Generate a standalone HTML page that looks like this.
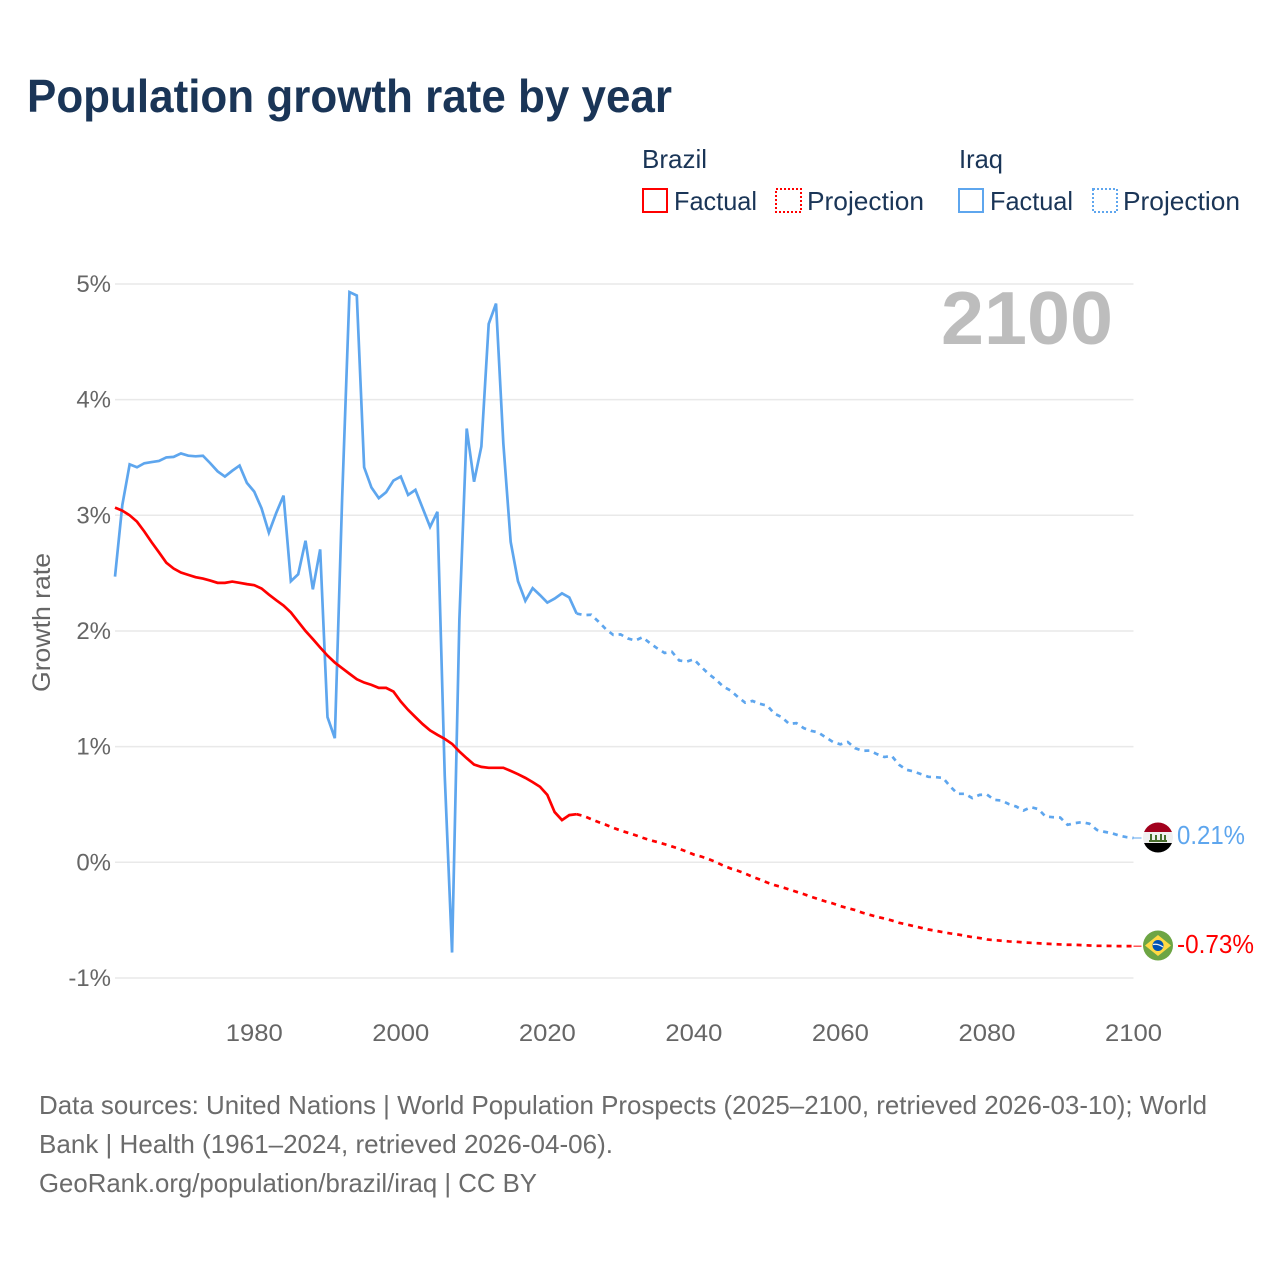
<!DOCTYPE html>
<html lang="en">
<head>
<meta charset="utf-8">
<title>Population growth rate by year</title>
<style>
html,body{margin:0;padding:0;background:#fff;width:1280px;height:1280px;overflow:hidden}
svg{display:block;font-family:"Liberation Sans",sans-serif}
</style>
</head>
<body>
<svg id="chart" width="1280" height="1280" viewBox="0 0 1280 1280" xmlns="http://www.w3.org/2000/svg">
  <rect x="0" y="0" width="1280" height="1280" fill="#fff"/>
  <text x="27" y="112" font-size="46" font-weight="700" fill="#1a3557" textLength="645" lengthAdjust="spacingAndGlyphs">Population growth rate by year</text>

  <g font-size="26" fill="#1a3557">
    <text x="642" y="168" textLength="65" lengthAdjust="spacingAndGlyphs">Brazil</text>
    <text x="959" y="168" textLength="44" lengthAdjust="spacingAndGlyphs">Iraq</text>
    <g>
      <rect x="643" y="189" width="24" height="23" fill="none" stroke="#ff0000" stroke-width="2"/>
      <text x="674" y="210" textLength="83" lengthAdjust="spacingAndGlyphs">Factual</text>
    </g>
    <g>
      <rect x="776" y="189" width="25" height="23" fill="none" stroke="#ff0000" stroke-width="2" stroke-dasharray="2 2"/>
      <text x="807" y="210" textLength="117" lengthAdjust="spacingAndGlyphs">Projection</text>
    </g>
    <g>
      <rect x="959" y="189" width="24" height="23" fill="none" stroke="#5ea6ee" stroke-width="2"/>
      <text x="990" y="210" textLength="83" lengthAdjust="spacingAndGlyphs">Factual</text>
    </g>
    <g>
      <rect x="1093" y="189" width="24" height="23" fill="none" stroke="#5ea6ee" stroke-width="2" stroke-dasharray="2 2"/>
      <text x="1123" y="210" textLength="117" lengthAdjust="spacingAndGlyphs">Projection</text>
    </g>
  </g>

  <g id="grid"></g>
  <g id="yticks" font-size="24" fill="#666" text-anchor="end"></g>
  <g id="xticks" font-size="24" fill="#666" text-anchor="middle"></g>
  <text transform="translate(50,692) rotate(-90)" font-size="25" fill="#666" textLength="139" lengthAdjust="spacingAndGlyphs">Growth rate</text>
  <text x="941" y="344" font-size="75" font-weight="700" fill="#bdbdbd" textLength="172" lengthAdjust="spacingAndGlyphs">2100</text>

  <g id="series"></g>

  <g id="flag-iraq">
    <clipPath id="clip-iraq"><circle cx="1158" cy="837.500" r="15"/></clipPath>
    <g clip-path="url(#clip-iraq)">
      <rect x="1143" y="822" width="30" height="10" fill="#a2001d"/>
      <rect x="1143" y="832" width="30" height="11" fill="#f0f0f0"/>
      <rect x="1143" y="843" width="30" height="10" fill="#000"/>
      <g fill="#496e2d">
        <rect x="1149" y="840" width="18" height="2"/>
        <rect x="1150" y="834" width="2" height="6"/>
        <rect x="1155" y="835" width="2" height="5"/>
        <rect x="1160" y="834" width="2" height="6"/>
        <rect x="1164" y="835" width="2" height="5"/>
      </g>
    </g>
  </g>
  <g id="flag-brazil">
    <circle cx="1158" cy="945.500" r="15" fill="#6da544"/>
    <polygon points="1158,935 1171,945.500 1158,956 1145,945.500" fill="#ffda44"/>
    <circle cx="1158" cy="945.500" r="5.500" fill="#0052b4"/>
    <path d="M1153 944.500 Q1158 943.500 1163 947" fill="none" stroke="#f0f0f0" stroke-width="1.300"/>
  </g>
  <text id="value-iraq" x="1177" y="844" font-size="26" fill="#5ea6ee" textLength="68" lengthAdjust="spacingAndGlyphs">0.21%</text>
  <text id="value-brazil" x="1177" y="953" font-size="26" fill="#ff0000" textLength="77" lengthAdjust="spacingAndGlyphs">-0.73%</text>

  <g font-size="26" fill="#6b6b6b">
    <text x="39" y="1114" textLength="1168" lengthAdjust="spacingAndGlyphs">Data sources: United Nations | World Population Prospects (2025–2100, retrieved 2026-03-10); World</text>
    <text x="39" y="1153" textLength="574" lengthAdjust="spacingAndGlyphs">Bank | Health (1961–2024, retrieved 2026-04-06).</text>
    <text x="39" y="1192" textLength="498" lengthAdjust="spacingAndGlyphs">GeoRank.org/population/brazil/iraq | CC BY</text>
  </g>
</svg>
<script>
const factualStartYear = 1961;
const projectionStartYear = 2025;
const yearMin = 1961;
const yearMax = 2100;
const xTickYears = [1980, 2000, 2020, 2040, 2060, 2080, 2100];
const yTickValues = [5, 4, 3, 2, 1, 0, -1];
const yTickLabels = ['5%', '4%', '3%', '2%', '1%', '0%', '-1%'];

const brazilFactual = [3.066,3.04,3.0,2.945,2.86,2.767,2.68,2.59,2.54,2.505,2.485,2.465,2.453,2.436,2.416,2.416,2.427,2.416,2.405,2.396,2.367,2.315,2.266,2.22,2.16,2.08,2.0,1.93,1.857,1.787,1.727,1.678,1.63,1.583,1.554,1.534,1.508,1.508,1.476,1.39,1.318,1.255,1.194,1.14,1.102,1.067,1.024,0.958,0.9,0.845,0.825,0.817,0.817,0.817,0.79,0.762,0.73,0.693,0.653,0.583,0.434,0.365,0.408,0.416];
const brazilProjection = [0.40,0.373,0.347,0.324,0.298,0.275,0.255,0.235,0.212,0.192,0.175,0.157,0.137,0.117,0.093,0.067,0.05,0.028,0.002,-0.028,-0.053,-0.073,-0.097,-0.125,-0.149,-0.175,-0.197,-0.214,-0.235,-0.255,-0.275,-0.298,-0.318,-0.339,-0.356,-0.379,-0.396,-0.413,-0.436,-0.454,-0.471,-0.486,-0.503,-0.523,-0.537,-0.552,-0.566,-0.581,-0.592,-0.604,-0.615,-0.624,-0.635,-0.647,-0.655,-0.667,-0.673,-0.678,-0.684,-0.687,-0.693,-0.696,-0.70,-0.704,-0.707,-0.71,-0.713,-0.713,-0.716,-0.719,-0.722,-0.722,-0.723,-0.725,-0.725,-0.725];
const iraqFactual = [2.47,3.09,3.44,3.415,3.45,3.46,3.47,3.50,3.505,3.535,3.515,3.51,3.515,3.45,3.38,3.335,3.385,3.43,3.28,3.205,3.06,2.85,3.02,3.17,2.43,2.49,2.78,2.36,2.705,1.255,1.073,3.15,4.93,4.90,3.415,3.24,3.148,3.2,3.3,3.335,3.176,3.22,3.06,2.90,3.03,0.75,-0.78,2.1,3.75,3.29,3.595,4.655,4.83,3.62,2.77,2.43,2.26,2.37,2.31,2.245,2.28,2.325,2.29,2.15];
const iraqProjection = [2.137,2.14,2.08,2.015,1.966,1.97,1.935,1.917,1.946,1.895,1.85,1.81,1.82,1.745,1.735,1.755,1.69,1.63,1.58,1.52,1.485,1.43,1.38,1.395,1.37,1.355,1.285,1.255,1.197,1.203,1.16,1.137,1.122,1.08,1.04,1.02,1.04,0.987,0.964,0.966,0.935,0.91,0.92,0.843,0.80,0.785,0.762,0.739,0.736,0.73,0.655,0.592,0.592,0.555,0.583,0.586,0.54,0.534,0.503,0.482,0.448,0.477,0.46,0.396,0.39,0.387,0.324,0.339,0.347,0.333,0.28,0.264,0.252,0.232,0.218,0.21];

const svgNS = 'http://www.w3.org/2000/svg';
function xScale(year) {
  return 115 + (year - yearMin) * (1133.5 - 115) / (yearMax - yearMin);
}
function yScale(value) {
  return 862.3 - value * 115.67;
}
function linePath(startYear, values) {
  return values.map(function (v, i) {
    return (i ? 'L' : 'M') + xScale(startYear + i).toFixed(2) + ' ' + yScale(v).toFixed(2);
  }).join(' ');
}

const gridLayer = document.getElementById('grid');
const yTickLayer = document.getElementById('yticks');
const xTickLayer = document.getElementById('xticks');
const seriesLayer = document.getElementById('series');

yTickValues.forEach(function (v, i) {
  const line = document.createElementNS(svgNS, 'line');
  
  
  line.setAttribute('x1', xScale(yearMin));
  line.setAttribute('x2', xScale(yearMax));
  line.setAttribute('y1', yScale(v));
  line.setAttribute('y2', yScale(v));
  line.setAttribute('stroke', '#e9e9e9');
  line.setAttribute('stroke-width', '1.500');
  gridLayer.appendChild(line);

  const label = document.createElementNS(svgNS, 'text');
  
  
  label.setAttribute('x', 111);
  label.setAttribute('y', yScale(v) + 8);
  label.textContent = yTickLabels[i];
  yTickLayer.appendChild(label);
});

xTickYears.forEach(function (year) {
  const label = document.createElementNS(svgNS, 'text');
  
  
  label.setAttribute('x', xScale(year));
  label.setAttribute('y', 1041);
  label.setAttribute('textLength', 57);
  label.setAttribute('lengthAdjust', 'spacingAndGlyphs');
  label.textContent = String(year);
  xTickLayer.appendChild(label);
});

function drawLine(name, startYear, values, color, dashed) {
  const path = document.createElementNS(svgNS, 'path');
  
  
  path.setAttribute('d', linePath(startYear, values));
  path.setAttribute('fill', 'none');
  path.setAttribute('stroke', color);
  path.setAttribute('stroke-width', '2.700');
  path.setAttribute('stroke-linejoin', 'miter');
  if (dashed) {
    path.setAttribute('stroke-dasharray', '5 5');
  }
  seriesLayer.appendChild(path);
}
function drawConnector(name, value, color) {
  const line = document.createElementNS(svgNS, 'line');
  
  
  line.setAttribute('x1', xScale(yearMax));
  line.setAttribute('x2', xScale(yearMax) + 8);
  line.setAttribute('y1', yScale(value));
  line.setAttribute('y2', yScale(value));
  line.setAttribute('stroke', color);
  line.setAttribute('stroke-width', '1');
  seriesLayer.appendChild(line);
}

const iraqColor = '#5ea6ee';
const brazilColor = '#ff0000';
drawLine('iraq-factual-line', factualStartYear, iraqFactual, iraqColor, false);
drawLine('brazil-factual-line', factualStartYear, brazilFactual, brazilColor, false);
drawLine('iraq-projection-line', projectionStartYear - 1, [iraqFactual[iraqFactual.length - 1]].concat(iraqProjection), iraqColor, true);
drawLine('brazil-projection-line', projectionStartYear - 1, [brazilFactual[brazilFactual.length - 1]].concat(brazilProjection), brazilColor, true);
drawConnector('iraq-end-connector', iraqProjection[iraqProjection.length - 1], iraqColor);
drawConnector('brazil-end-connector', brazilProjection[brazilProjection.length - 1], brazilColor);
</script>
</body>
</html>
